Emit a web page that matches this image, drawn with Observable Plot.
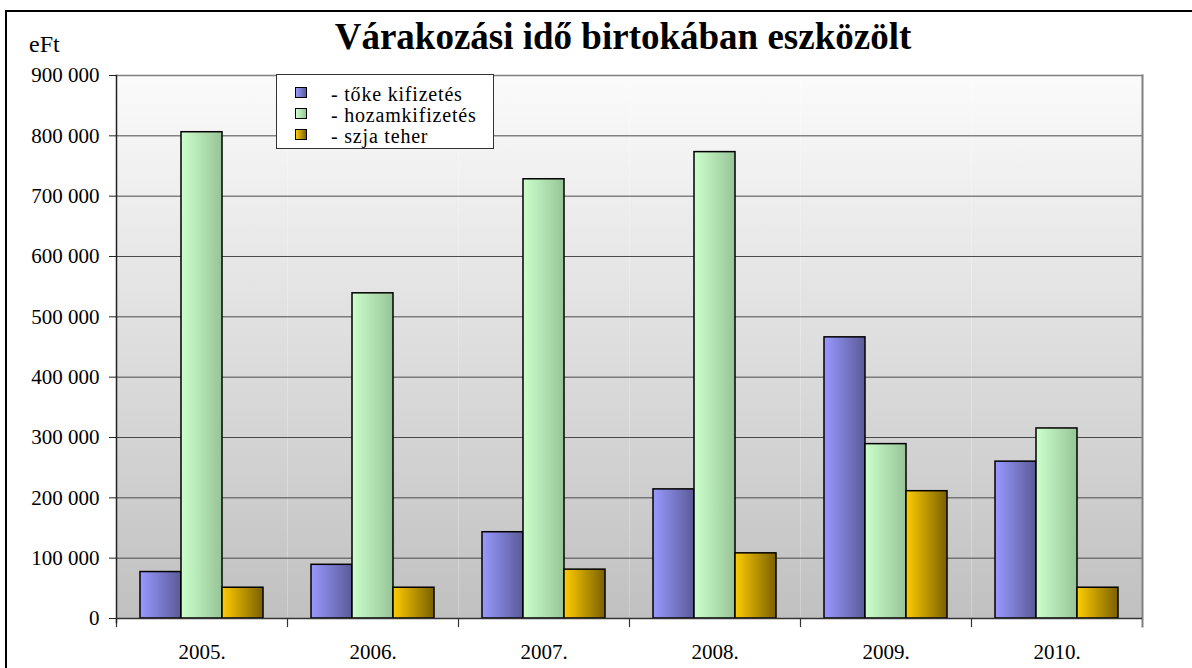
<!DOCTYPE html>
<html>
<head>
<meta charset="utf-8">
<script src="https://cdn.jsdelivr.net/npm/d3@7"></script>
<script src="https://cdn.jsdelivr.net/npm/@observablehq/plot@0.6"></script>
<style>
  html, body { margin: 0; padding: 0; background: #fff; }
  #wrap { position: relative; width: 1192px; height: 668px; overflow: hidden; font-family: "Liberation Serif", "Times New Roman", serif; color: #000; }
  #border { position: absolute; left: 5px; top: 10px; width: 1400px; height: 900px; border: 2px solid #000; box-sizing: border-box; }
  #title { position: absolute; left: 0; width: 1246px; top: 15px; text-align: center; font-weight: bold; font-size: 37px; line-height: 44px; white-space: nowrap; }
  #unit { position: absolute; left: 29px; top: 30px; font-size: 24px; line-height: 28px; }
  #chart { position: absolute; left: 0; top: 0; }
  #legend { position: absolute; left: 276px; top: 74px; width: 218px; height: 75px; background: #fff; border: 1.5px solid #333; box-sizing: border-box; }
  .row { position: absolute; left: 0; height: 21px; font-size: 20px; line-height: 21px; letter-spacing: 0.8px; white-space: nowrap; }
  .sw { position: absolute; left: 18px; top: 3px; width: 10px; height: 9px; border: 1px solid #000; }
  .lt { position: absolute; left: 54px; top: 0; }
</style>
</head>
<body>
<div id="wrap">
  <div id="border"></div>
  <div id="title"></div>
  <div id="unit"></div>
  <div id="chart"></div>
  <div id="legend"></div>
</div>
<script>
// ---- data ----
const title = "Várakozási idő birtokában eszközölt";
const unitLabel = "eFt";
const years = ["2005.", "2006.", "2007.", "2008.", "2009.", "2010."];
const series = ["- tőke kifizetés", "- hozamkifizetés", "- szja teher"];
const tokeKifizetes = [77000, 89000, 143000, 214000, 466000, 260000];
const hozamKifizetes = [806000, 539000, 728000, 773000, 289000, 315000];
const szjaTeher = [51000, 51000, 81000, 108000, 211000, 51000];
const yTicks = [0, 100000, 200000, 300000, 400000, 500000, 600000, 700000, 800000, 900000];

// gradient colours per series: [left, right]
const barGradients = [["#9999ff", "#5a5a98"], ["#ccffcc", "#97c497"], ["#ffcc00", "#7a6000"]];

const values = [tokeKifizetes, hozamKifizetes, szjaTeher];
const data = years.flatMap((year, i) => series.map((s, j) => ({ year, series: s, value: values[j][i] })));

document.getElementById("title").textContent = title;
document.getElementById("unit").textContent = unitLabel;

const fmt = d => d3.format(",")(d).replace(/,/g, " ");

const chart = Plot.plot({
  width: 1192,
  height: 668,
  marginLeft: 115,
  marginRight: 50,
  marginTop: 75,
  marginBottom: 50,
  style: { fontFamily: "'Liberation Serif', 'Times New Roman', serif", fontSize: "21px", color: "#000", background: "transparent" },
  fx: { domain: years, padding: 0, label: null },
  x: { domain: series, paddingInner: 0, paddingOuter: 0.585, axis: null },
  y: { domain: [0, 900000], label: null },
  color: { type: "ordinal", domain: series, range: series.map((s, i) => `url(#barGrad${i})`) },
  marks: [
    Plot.frame({ fill: "url(#bgGrad)", stroke: null }),
    Plot.gridY(yTicks, { stroke: "#4a4a4a", strokeOpacity: 1, strokeWidth: 1 }),
    Plot.barY(data, { fx: "year", x: "series", y: "value", fill: "series", stroke: "#000", strokeWidth: 1.5 }),
    Plot.frame({ anchor: "left", insetTop: 543, insetBottom: -8, stroke: "#333", strokeWidth: 1.2 }),
    Plot.frame({ facet: "super", anchor: "right", stroke: "#808080", strokeWidth: 2, insetBottom: -8 }),
    Plot.frame({ facet: "super", anchor: "top", stroke: "#808080", strokeWidth: 1.5 }),
    Plot.frame({ facet: "super", anchor: "left", stroke: "#222", strokeWidth: 1.5, insetBottom: -4 }),
    Plot.ruleY([0], { stroke: "#333", strokeWidth: 1.5 }),
    Plot.axisY(yTicks, { tickSize: 7, tickPadding: 10, tickFormat: fmt, label: null, stroke: "#222" }),
    Plot.axisFx({ anchor: "bottom", tickSize: 0, tickPadding: 26, label: null })
  ]
});

// gradient definitions
const svg = d3.select(chart);
const defs = svg.insert("defs", ":first-child");
const bg = defs.append("linearGradient").attr("id", "bgGrad").attr("x1", 0).attr("x2", 0).attr("y1", 0).attr("y2", 1);
bg.append("stop").attr("offset", "0%").attr("stop-color", "#fbfbfb");
bg.append("stop").attr("offset", "100%").attr("stop-color", "#c0c0c0");
barGradients.forEach(([a, b], i) => {
  const g = defs.append("linearGradient").attr("id", `barGrad${i}`).attr("x1", 0).attr("x2", 1).attr("y1", 0).attr("y2", 0);
  g.append("stop").attr("offset", "0%").attr("stop-color", a);
  g.append("stop").attr("offset", "100%").attr("stop-color", b);
});
document.getElementById("chart").appendChild(chart);

// legend
const legend = d3.select("#legend");
series.forEach((s, i) => {
  const row = legend.append("div").attr("class", "row").style("top", `${9 + i * 21}px`);
  row.append("div").attr("class", "sw")
    .style("background", `linear-gradient(to right, ${barGradients[i][0]}, ${barGradients[i][1]})`);
  row.append("div").attr("class", "lt").text(s);
});
</script>
</body>
</html>
